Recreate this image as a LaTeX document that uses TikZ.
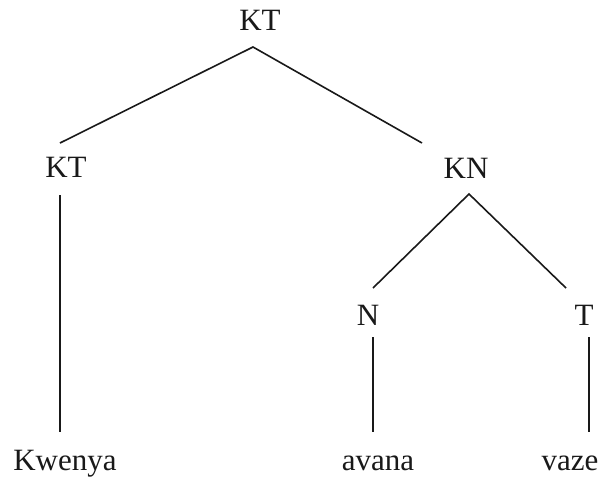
\documentclass[tikz,border=0pt]{standalone}
\usepackage{fontspec}
\setmainfont{Liberation Serif}
\begin{document}
\begin{tikzpicture}[x=1pt,y=-1pt,
  lbl/.style={anchor=base,inner sep=0pt,font=\fontsize{31}{36}\selectfont,text=black!90},
  edge/.style={line width=1.6pt,black!90}]
\useasboundingbox (0,0) rectangle (602,483);
\node[lbl] (kt) at (260,30) {KT};
\node[lbl] (ktl) at (66,177) {KT};
\node[lbl] (kn) at (466,178) {KN};
\node[lbl] (n) at (368,325) {N};
\node[lbl] (t) at (584,325) {T};
\node[lbl] (kw) at (65,470) {Kwenya};
\node[lbl] (av) at (378,470) {avana};
\node[lbl] (vz) at (570,470) {vaze};
\coordinate (a0) at (253,47);
\coordinate (a1) at (60,143);
\coordinate (a2) at (422,143);
\coordinate (b0) at (60,195);
\coordinate (b1) at (60,432);
\coordinate (c0) at (469,194);
\coordinate (c1) at (373,288);
\coordinate (c2) at (566,288);
\coordinate (d0) at (373,337);
\coordinate (d1) at (373,432);
\coordinate (e0) at (589,337);
\coordinate (e1) at (589,432);
\draw[edge] (a1) -- (a0) -- (a2);
\draw[edge] (b0) -- (b1);
\draw[edge] (c1) -- (c0) -- (c2);
\draw[edge] (d0) -- (d1);
\draw[edge] (e0) -- (e1);
\end{tikzpicture}
\end{document}
